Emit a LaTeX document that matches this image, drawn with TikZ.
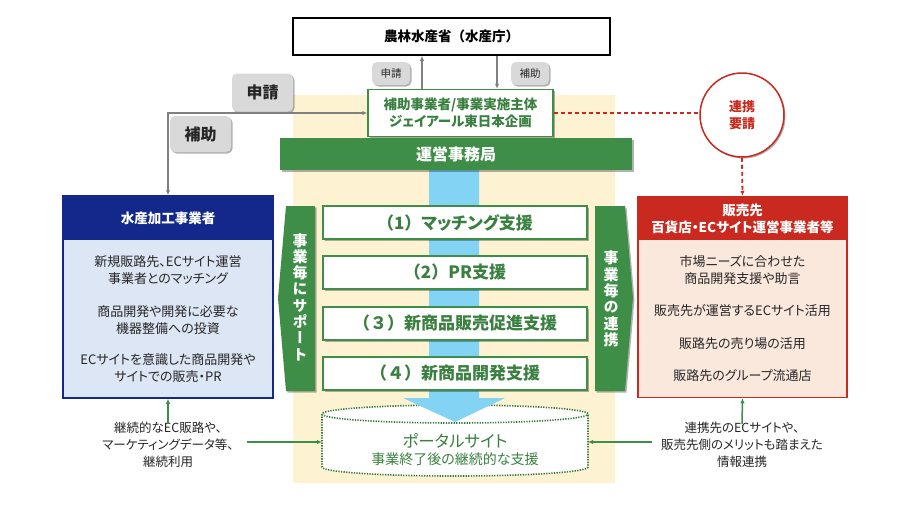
\documentclass[tikz,border=0pt]{standalone}
\usepackage{fontspec}
\setmainfont[RawFeature=+palt]{Noto Sans CJK JP}
\newfontfamily\jpfull{Noto Sans CJK JP}
\newfontfamily\vjp[RawFeature=+vert]{Noto Sans CJK JP}
\usetikzlibrary{arrows.meta,shadows,calc}
\definecolor{gfill}{HTML}{3E8E47}
\definecolor{gtext}{HTML}{3A8040}
\definecolor{navy}{HTML}{13288A}
\definecolor{lblue}{HTML}{DDE6F4}
\definecolor{rred}{HTML}{C9291E}
\definecolor{lpink}{HTML}{FBE8DD}
\definecolor{beige}{HTML}{FDF2D2}
\definecolor{band}{HTML}{83D3F5}
\definecolor{glab}{HTML}{D9D9D9}
\definecolor{garr}{HTML}{808080}
\definecolor{tdark}{HTML}{262626}
\tikzset{
  shd/.style={drop shadow={shadow xshift=1.5pt,shadow yshift=-1.5pt,opacity=0.3,fill=black}},
  graylab/.style={fill=glab,rounded corners=5pt,inner sep=0pt,text=tdark,shd},
  supbox/.style={draw=gfill,line width=1.5pt,fill=white,minimum width=264pt,minimum height=33pt,inner sep=0pt,
     text=gtext,font=\bfseries\fontsize{17}{19}\selectfont,shd},
  bodytxt/.style={align=center,inner sep=0pt,text=tdark,font=\fontsize{13}{17}\selectfont},
  foottxt/.style={align=center,inner sep=0pt,text=tdark,font=\fontsize{12.5}{17}\selectfont},
  headtxt/.style={align=center,inner sep=0pt,text=white,font=\bfseries\fontsize{13.5}{17}\selectfont},
  vtxt/.style={align=center,inner sep=0pt,text=white,font=\vjp\bfseries\fontsize{15}{16.3}\selectfont},
  grayarrow/.style={draw=garr,line width=1.3pt,-{Latex[length=5pt,width=4.5pt]}},
  grnarrow/.style={draw=gfill,line width=1.5pt,-{Latex[length=5pt,width=4.5pt]}},
  reddash/.style={draw=rred,line width=1.8pt,dash pattern=on 4pt off 3pt},
}
\begin{document}
\begin{tikzpicture}[x=1pt,y=-1pt]
\useasboundingbox[fill=white] (0,0) rectangle (904,504);

% beige background
\fill[beige] (293,95) rectangle (615,483);

% top ministry box
\node[draw=black,line width=1.5pt,fill=white,minimum width=317pt,minimum height=37pt,inner sep=0pt,
      font=\jpfull\bfseries\fontsize{13.5}{16}\selectfont] (top) at (451.5,36.5) {農林水産省（水産庁）};

% small labels
\node[graylab,minimum width=38pt,minimum height=23pt,font=\fontsize{10.5}{12}\selectfont] (smA) at (391,73.5) {申請};
\node[graylab,minimum width=38pt,minimum height=23pt,font=\fontsize{10.5}{12}\selectfont] (smB) at (530,73.5) {補助};

% big labels
\node[graylab,minimum width=61pt,minimum height=38pt,font=\bfseries\fontsize{16}{18}\selectfont] (bigA) at (262.5,92.5) {申請};
\node[graylab,minimum width=61pt,minimum height=36pt,font=\bfseries\fontsize{16}{18}\selectfont] (bigB) at (200.5,134) {補助};

% cylinder (portal)
\coordinate (cylL) at (322,442);
\coordinate (cylR) at (588,442);
\filldraw[fill=white,draw=gfill!85!black,line width=1.6pt,dash pattern=on 1.3pt off 1.3pt]
  (322,414) -- (322,467) arc[start angle=180,end angle=360,x radius=133pt,y radius=9pt]
  -- (588,414) arc[start angle=0,end angle=180,x radius=133pt,y radius=9pt] -- cycle;
\draw[draw=gfill!85!black,line width=1.6pt,dash pattern=on 1.3pt off 1.3pt]
  (322,414) arc[start angle=180,end angle=360,x radius=133pt,y radius=9pt];
\node[align=center,inner sep=0pt,text=gtext,font=\fontsize{14}{17}\selectfont] (portal) at (455,450)
  {{\fontsize{16.5}{17}\selectfont ポータルサイト}\\事業終了後の継続的な支援};

% blue band with arrow head
\fill[band] (429,160) -- (479,160) -- (479,398) -- (505,398) -- (455,422) -- (403,398) -- (429,398) -- cycle;

% hojo box
\node[draw=gfill,line width=1.5pt,fill=white,minimum width=185pt,minimum height=47pt,inner sep=0pt,align=center,
      text=gtext,font=\bfseries\fontsize{13.5}{17}\selectfont,shd] (hojo) at (460.5,113)
      {補助事業者/事業実施主体\\ジェイアール東日本企画};

% unei bar
\node[fill=gfill,minimum width=352pt,minimum height=32pt,inner sep=0pt,text=white,
      font=\bfseries\fontsize{16}{18}\selectfont,shd] (unei) at (456,154) {運営事務局};

% support boxes
\node[supbox] (s1) at (455,222.5) {{\jpfull （1）}マッチング支援};
\node[supbox] (s2) at (455,272.5) {{\jpfull （2）}PR支援};
\node[supbox] (s3) at (455,323.5) {{\jpfull （３）}新商品販売促進支援};
\node[supbox] (s4) at (455,373.5) {{\jpfull （４）}新商品開発支援};

% side chevrons
\fill[gfill,shd] (286,206) -- (315,206) -- (315,391) -- (286,391) -- (278,298) -- cycle;
\node[vtxt] (lv) at (300,297) {事\\業\\毎\\に\\サ\\ポ\\ー\\ト};
\fill[gfill,shd] (595,206) -- (625,206) -- (633,298) -- (625,391) -- (595,391) -- cycle;
\node[vtxt] (rv) at (611,299) {事\\業\\毎\\の\\連\\携};

% left box
\node[draw=navy,line width=1.5pt,fill=lblue,minimum width=210pt,minimum height=202pt,inner sep=0pt] (lbox) at (168,297) {};
\node[fill=navy,minimum width=210pt,minimum height=44pt,inner sep=0pt] (lhead) at (168,218) {};
\node[headtxt] (lheadt) at (168,218) {水産加工事業者};
\node[bodytxt] (l1) at (168,270.5) {新規販路先、ECサイト運営\\事業者とのマッチング};
\node[bodytxt] (l2) at (168,320.5) {商品開発や開発に必要な\\機器整備への投資};
\node[bodytxt] (l3) at (168,368.5) {ECサイトを意識した商品開発や\\サイトでの販売・PR};

% right box
\node[draw=rred,line width=1.5pt,fill=lpink,minimum width=209pt,minimum height=201pt,inner sep=0pt] (rbox) at (742.5,297) {};
\node[fill=rred,minimum width=209pt,minimum height=43pt,inner sep=0pt] (rhead) at (742.5,218) {};
\node[headtxt] (rheadt) at (742.5,218.5) {販売先\\百貨店・ECサイト運営事業者等};
\node[bodytxt] (r1) at (742.5,270) {市場ニーズに合わせた\\商品開発支援や助言};
\node[bodytxt] (r2) at (742.5,311) {販売先が運営するECサイト活用};
\node[bodytxt] (r3) at (742.5,344) {販路先の売り場の活用};
\node[bodytxt] (r4) at (742.5,376) {販路先のグループ流通店};

% circle
\node[circle,draw=rred,line width=1.5pt,fill=white,minimum size=84pt,inner sep=0pt,align=center,
      text=rred,font=\bfseries\fontsize{13}{16.5}\selectfont,shd] (circ) at (742,115) {連携\\要請};

% bottom texts
\node[foottxt] (lb) at (168,445) {継続的なEC販路や、\\マーケティングデータ等、\\継続利用};
\node[foottxt] (rb) at (742,445) {連携先のECサイトや、\\販売先側のメリットも踏まえた\\情報連携};
\coordinate (lsrc) at (247,442);
\coordinate (rsrc) at (652,442);

% connectors
\draw[grayarrow] ([xshift=-38.5pt]hojo.north) -- ([xshift=-38.5pt]hojo.north |- top.south);
\draw[grayarrow] ([xshift=36.5pt]hojo.north |- top.south) -- ([xshift=36.5pt]hojo.north);
\draw[draw=garr,line width=1.3pt,{Latex[length=5pt,width=4.5pt]}-{Latex[length=5pt,width=4.5pt]}]
  (hojo.west) -| (lbox.north);
\draw[reddash] (hojo.east) -- (hojo.east -| circ.west);
\draw[reddash,-{Latex[length=5pt,width=4.5pt]}] (circ.south) -- (rbox.north);
\draw[grnarrow] ([yshift=-2pt]lb.north) -- (lbox.south);
\draw[grnarrow] ([yshift=-2pt]rb.north) -- (rbox.south);
\draw[grnarrow] (lsrc) -- (cylL);
\draw[grnarrow] (rsrc) -- (cylR);
\end{tikzpicture}
\end{document}
